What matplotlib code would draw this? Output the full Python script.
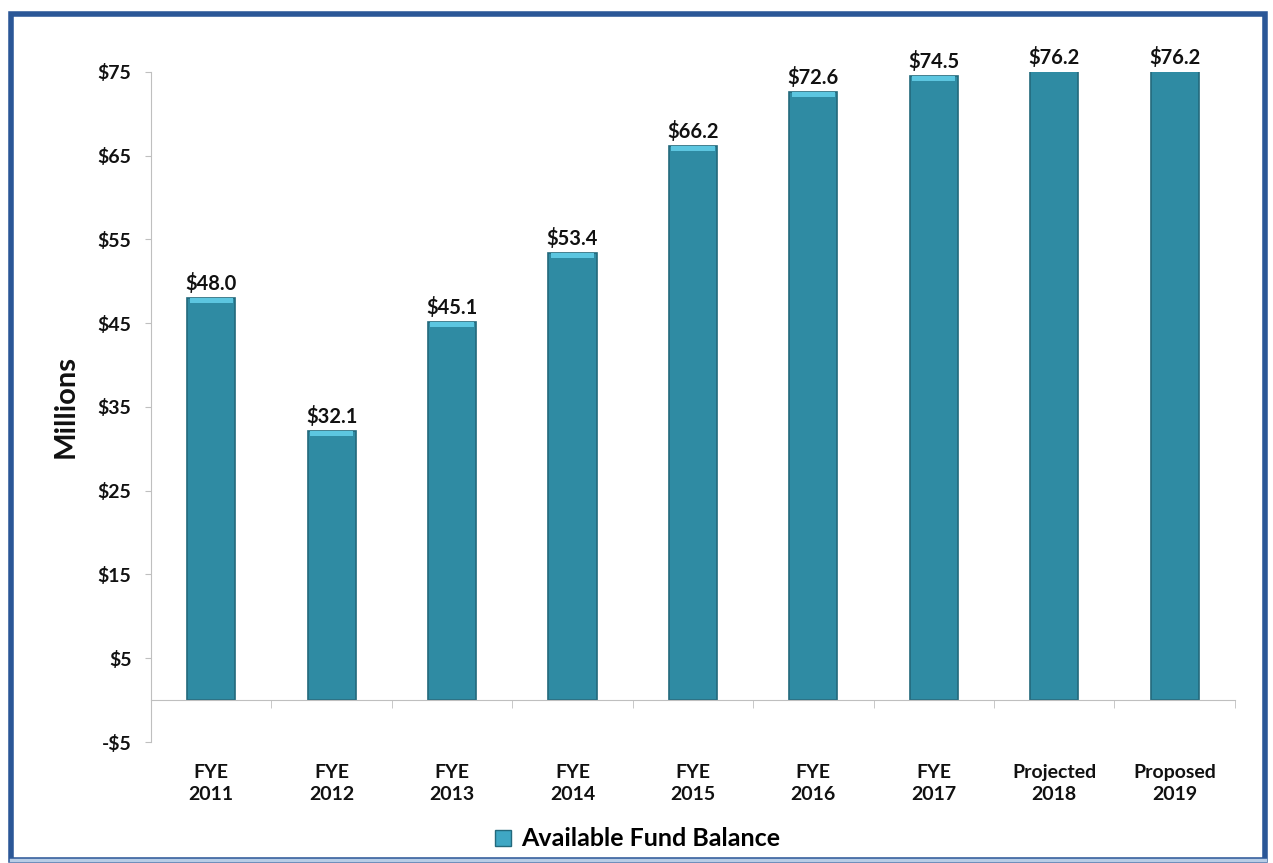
import matplotlib.pyplot as plt
import numpy as np
from matplotlib.lines import Line2D
from matplotlib.patches import Rectangle

# data ($ millions)
categories = ['FYE\n2011', 'FYE\n2012', 'FYE\n2013', 'FYE\n2014', 'FYE\n2015',
              'FYE\n2016', 'FYE\n2017', 'Projected\n2018', 'Proposed\n2019']
balance = [48.0, 32.1, 45.1, 53.4, 66.2, 72.6, 74.5, 76.2, 76.2]
y_ticks = [-5, 5, 15, 25, 35, 45, 55, 65, 75]
series_name = 'Available Fund Balance'

plt.rcParams['font.family'] = ['Lato', 'DejaVu Sans']
plt.rcParams['font.weight'] = 'bold'

BAR = '#2f8ba3'
EDGE = '#23697c'
CAP = '#5cc6e0'
AXIS = '#bfbfbf'
TXT = '#111111'

fig = plt.figure(figsize=(12.73, 8.63), dpi=100)
ax = fig.add_axes([0.1186, 0.1402, 0.8514, 0.7764])

x = np.arange(len(categories))
ymin, ymax = y_ticks[0], y_ticks[-1]

ax.bar(x, balance, width=0.4, color=BAR, edgecolor=EDGE, linewidth=1.2, zorder=2)
# lighter bevel cap on top of each bar
cap_h = 0.6
ax.bar(x, [cap_h] * len(x), bottom=[v - cap_h for v in balance], width=0.36,
       color=CAP, edgecolor='none', zorder=3)

for xi, v in zip(x, balance):
    ax.annotate('${:.1f}'.format(v), (xi, min(v, ymax)), xytext=(0, 3),
                textcoords='offset points', ha='center', va='bottom',
                fontsize=14.5, fontweight='bold', color=TXT,
                annotation_clip=False, zorder=5)

ax.set_xlim(-0.5, len(x) - 0.5)
ax.set_ylim(ymin, ymax)
ax.set_yticks(y_ticks)
ax.set_yticklabels(['-${}'.format(-t) if t < 0 else '${}'.format(t) for t in y_ticks])

# x axis sits at zero, labels sit below the -5 line
ax.spines['bottom'].set_position(('data', 0))
ax.spines['top'].set_visible(False)
ax.spines['right'].set_visible(False)
ax.spines['left'].set_color(AXIS)
ax.spines['bottom'].set_color(AXIS)
ax.set_xticks(x)
ax.set_xticklabels(categories, linespacing=1.35)
ax.set_xticks(np.arange(len(x) + 1) - 0.5, minor=True)
ax.tick_params(axis='x', which='major', length=0, pad=46, labelsize=14)
ax.tick_params(axis='x', which='minor', length=6, direction='out', color=AXIS)
ax.tick_params(axis='y', length=4, direction='out', color=AXIS, labelsize=14, pad=10)
for lab in ax.get_xticklabels() + ax.get_yticklabels():
    lab.set_fontweight('bold')
    lab.set_color(TXT)

ax.set_ylabel('Millions', fontsize=21, fontweight='bold', labelpad=14, color=TXT)

handle = Line2D([], [], marker='s', linestyle='none', markersize=11,
                markerfacecolor='#3fa7c4', markeredgecolor=EDGE)
fig.legend([handle], [series_name], loc='center', bbox_to_anchor=(0.5, 0.028),
           frameon=False, handlelength=0.8, handletextpad=0.3,
           prop={'size': 18, 'weight': 'bold'})

# frame round the chart
fig.add_artist(Rectangle((0.0085, 0.003), 0.9855, 0.981, transform=fig.transFigure,
                         fill=False, edgecolor='#2b5797', linewidth=4))
fig.add_artist(Line2D([0.0085, 0.994], [0.004, 0.004], transform=fig.transFigure,
                      color='#b8cde6', linewidth=2.5))

fig.savefig('out.png', dpi=100)
